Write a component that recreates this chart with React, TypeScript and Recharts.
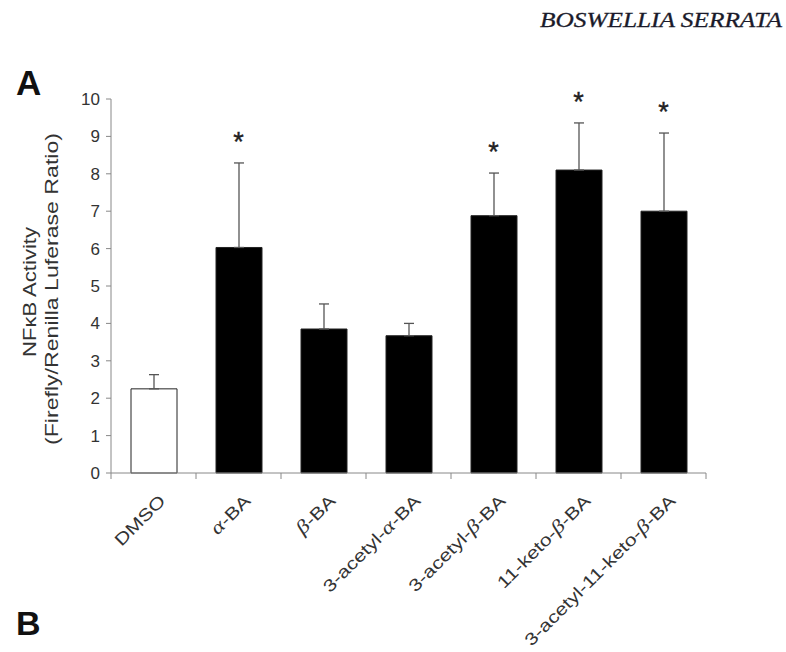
import React from 'react';
import { ComposedChart, Bar, Cell, ErrorBar, Scatter, XAxis, YAxis } from 'recharts';

const categories = ['DMSO', 'α-BA', 'β-BA', '3-acetyl-α-BA', '3-acetyl-β-BA', '11-keto-β-BA', '3-acetyl-11-keto-β-BA'];
const means = [2.25, 6.03, 3.85, 3.67, 6.88, 8.1, 7.0];
const sds = [0.38, 2.26, 0.67, 0.33, 1.14, 1.26, 2.09];
const significant = [false, true, false, false, true, true, true];
const yTicks = [0, 1, 2, 3, 4, 5, 6, 7, 8, 9, 10];

const data = categories.map((name, i) => ({
  name,
  mean: means[i],
  err: [0, sds[i]],
  star: significant[i] ? means[i] + sds[i] : null,
}));

const FONT = '"Liberation Sans", Arial, sans-serif';
const SERIF = '"Liberation Serif", serif';

// greek letters in the labels are set in italic serif, like the figure
const LabelText = ({ text }: { text: string }) => (
  <>
    {text.split(/([αβ])/).filter(Boolean).map((part, i) =>
      /[αβ]/.test(part) ? (
        <tspan key={i} fontStyle="italic" fontFamily={SERIF} fontSize={19}>{part}</tspan>
      ) : (
        <tspan key={i}>{part}</tspan>
      )
    )}
  </>
);

const XTick = (props: any) => {
  const { x, y, payload, index } = props;
  const half = payload.offset || 42.5;
  const axisY = y - 8;
  const ax = x + 13;
  const ay = axisY + 29;
  return (
    <g>
      <line x1={x - half} y1={axisY} x2={x - half} y2={axisY + 6} stroke="#888" />
      {index === categories.length - 1 && (
        <line x1={x + half} y1={axisY} x2={x + half} y2={axisY + 6} stroke="#888" />
      )}
      <text x={ax} y={ay} textAnchor="end" fontSize={17} fill="#333" fontFamily={FONT}
        transform={`rotate(-45, ${ax}, ${ay}) translate(${ax}, ${ay}) scale(1.25, 1) translate(${-ax}, ${-ay})`}>
        <LabelText text={payload.value} />
      </text>
    </g>
  );
};

const Star = (props: any) => {
  const { cx, cy } = props;
  if (cy == null) return null;
  return (
    <text x={cx} y={cy - 12} textAnchor="middle" fontSize={27} fill="#222" stroke="#222" strokeWidth={0.4} fontFamily={FONT}>*</text>
  );
};

export default function App() {
  return (
    <div style={{ position: 'absolute', left: 0, top: 0, width: 786, height: 652, background: '#fff' }}>
      <ComposedChart width={786} height={652} data={data}
        margin={{ top: 99, right: 80, left: 51, bottom: 149 }} barSize={46}>
        <XAxis dataKey="name" interval={0} height={30} tickLine={false} tickSize={6}
          axisLine={{ stroke: '#888' }} tick={<XTick />} />
        <YAxis domain={[0, 10]} ticks={yTicks} width={60} tickSize={5} tickMargin={6}
          axisLine={{ stroke: '#888' }} tickLine={{ stroke: '#888' }}
          tick={{ fontSize: 17, fill: '#333', fontFamily: FONT }} />
        <Bar dataKey="mean" isAnimationActive={false} stroke="#222" strokeWidth={1}>
          {data.map((d, i) => (
            <Cell key={d.name} fill={i === 0 ? '#fff' : '#000'} />
          ))}
          <ErrorBar dataKey="err" width={5} stroke="#555" strokeWidth={1.3} direction="y" />
        </Bar>
        <Scatter dataKey="star" isAnimationActive={false} shape={<Star />} />
      </ComposedChart>
      <svg width={786} height={652} style={{ position: 'absolute', left: 0, top: 0, pointerEvents: 'none' }}>
        <text x={540} y={27} textLength={242} lengthAdjust="spacingAndGlyphs" fontSize={21}
          fontStyle="italic" fontFamily={SERIF} fill="#1a1a2a" stroke="#1a1a2a" strokeWidth={0.3}>BOSWELLIA SERRATA</text>
        <text x={16} y={95} fontSize={35} fontWeight="bold" fontFamily={FONT} fill="#111">A</text>
        <text x={16} y={635} fontSize={34} fontWeight="bold" fontFamily={FONT} fill="#111">B</text>
        <text x={36} y={357} textLength={130} lengthAdjust="spacingAndGlyphs" fontSize={18} fill="#333"
          fontFamily={FONT} transform="rotate(-90, 36, 357)">NFκB Activity</text>
        <text x={58} y={445} textLength={312} lengthAdjust="spacingAndGlyphs" fontSize={18} fill="#333"
          fontFamily={FONT} transform="rotate(-90, 58, 445)">(Firefly/Renilla Luferase Ratio)</text>
      </svg>
    </div>
  );
}
